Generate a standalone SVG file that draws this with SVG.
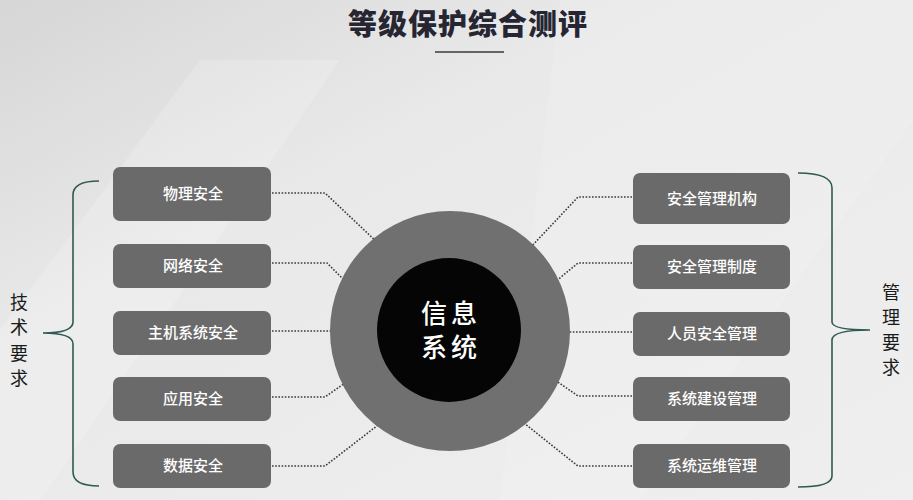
<svg xmlns="http://www.w3.org/2000/svg" width="913" height="500" viewBox="0 0 913 500">
<defs>
<linearGradient id="bg" x1="0" y1="0" x2="1" y2="1">
<stop offset="0" stop-color="#d6d6d6"/>
<stop offset="0.35" stop-color="#e9e9e9"/>
<stop offset="1" stop-color="#efefef"/>
</linearGradient>
<style>
.box{fill:#6b6a6a}
.bt{font-family:"Noto Sans CJK SC","Noto Sans",sans-serif;font-size:15px;fill:#ffffff;text-anchor:middle;font-weight:500}
.con{fill:none;stroke:#3a3a3a;stroke-width:1.6;stroke-dasharray:1.6 1.6}
.br{fill:none;stroke:#2f5a52;stroke-width:1.6}
.side{font-family:"Noto Sans CJK SC","Noto Sans",sans-serif;font-size:18px;fill:#1a1a1a;text-anchor:middle}
.ct{font-family:"Noto Sans CJK SC","Noto Sans",sans-serif;font-size:26px;fill:#ffffff;text-anchor:middle;font-weight:500;letter-spacing:4px}
</style>
</defs>
<rect width="913" height="500" fill="url(#bg)"/>
<polygon points="0,330 200,60 340,60 40,500 0,500" fill="#ffffff" opacity="0.18"/>
<polygon points="560,0 913,0 913,120 640,500 500,500" fill="#ffffff" opacity="0.12"/>

<g id="title">
<text x="468" y="35" font-family="Noto Sans CJK SC,sans-serif" font-size="29" font-weight="900" fill="#262633" text-anchor="middle" letter-spacing="1">等级保护综合测评</text>
<line x1="435" y1="52" x2="504" y2="52" stroke="#3a3a3a" stroke-width="1.5"/>
</g>

<g id="connectors">
<polyline class="con" points="272,193 325,193 380,245"/>
<polyline class="con" points="272,263 327,263 345,281"/>
<polyline class="con" points="272,331 340,331"/>
<polyline class="con" points="272,397 325,397 345,383"/>
<polyline class="con" points="272,466 325,466 382,422"/>
<polyline class="con" points="632,197 578,197 530,248"/>
<polyline class="con" points="632,263 578,263 555,282"/>
<polyline class="con" points="632,332 560,332"/>
<polyline class="con" points="632,396 578,396 555,380"/>
<polyline class="con" points="632,466 578,466 520,420"/>
</g>

<g id="center">
<circle cx="450" cy="331" r="120" fill="#717070"/>
<circle cx="449" cy="330" r="72" fill="#050505"/>
<text class="ct" x="451" y="323">信息</text>
<text class="ct" x="451" y="357">系统</text>
</g>

<g id="node-l1"><rect class="box" x="113" y="167" width="158" height="54" rx="7"/><text class="bt" x="193" y="199">物理安全</text></g>
<g id="node-l2"><rect class="box" x="113" y="244" width="158" height="44" rx="7"/><text class="bt" x="193" y="271">网络安全</text></g>
<g id="node-l3"><rect class="box" x="113" y="311" width="158" height="44" rx="7"/><text class="bt" x="193" y="338">主机系统安全</text></g>
<g id="node-l4"><rect class="box" x="113" y="377" width="158" height="44" rx="7"/><text class="bt" x="193" y="404">应用安全</text></g>
<g id="node-l5"><rect class="box" x="113" y="444" width="158" height="44" rx="7"/><text class="bt" x="193" y="471">数据安全</text></g>

<g id="node-r1"><rect class="box" x="633" y="173" width="157" height="51" rx="7"/><text class="bt" x="712" y="204">安全管理机构</text></g>
<g id="node-r2"><rect class="box" x="633" y="245" width="157" height="44" rx="7"/><text class="bt" x="712" y="272">安全管理制度</text></g>
<g id="node-r3"><rect class="box" x="633" y="312" width="157" height="44" rx="7"/><text class="bt" x="712" y="339">人员安全管理</text></g>
<g id="node-r4"><rect class="box" x="633" y="377" width="157" height="44" rx="7"/><text class="bt" x="712" y="404">系统建设管理</text></g>
<g id="node-r5"><rect class="box" x="633" y="444" width="157" height="44" rx="7"/><text class="bt" x="712" y="471">系统运维管理</text></g>

<g id="bracket-left">
<path class="br" d="M99,181 Q73,181 73,195 L73,322 Q73,333 43,333 Q73,333 73,344 L73,472 Q73,486 99,486"/>
<text class="side" x="19" y="309">技</text>
<text class="side" x="19" y="334">术</text>
<text class="side" x="19" y="360">要</text>
<text class="side" x="19" y="385">求</text>
</g>

<g id="bracket-right">
<path class="br" d="M798,173 Q832,173 832,188 L832,322 Q832,330 870,330 Q832,330 832,340 L832,476 Q832,487 798,487"/>
<text class="side" x="891" y="299">管</text>
<text class="side" x="891" y="324">理</text>
<text class="side" x="891" y="349">要</text>
<text class="side" x="891" y="374">求</text>
</g>
</svg>
